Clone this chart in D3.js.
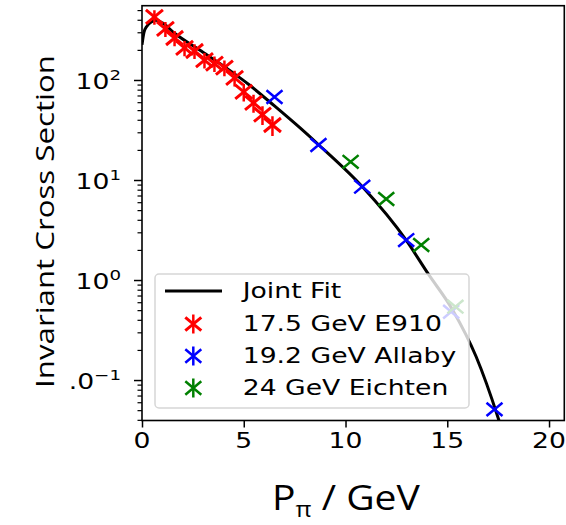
<!DOCTYPE html>
<html><head><meta charset="utf-8">
<script src="https://cdn.jsdelivr.net/npm/d3@7"></script>
<style>body{margin:0;background:#fff;} svg{display:block;}</style>
</head><body>
<svg id="chart" width="566" height="525"></svg>
<script>
// ---- data ----
const fitX = [0.0, 0.1, 0.25, 0.45, 0.7, 1.0, 1.6, 2.83, 4.05, 5.28, 6.51, 7.74, 8.64, 10.82, 12.98, 14.04, 15.27, 16.42, 17.48, 17.7];
const fitY = [225, 300, 347, 380, 396, 372, 293, 199, 136, 89, 55, 33.5, 22.9, 8.6, 2.5, 1.17, 0.50, 0.171, 0.043, 0.031];

const e910X = [0.61, 1.15, 1.6, 2.09, 2.58, 3.07, 3.56, 4.05, 4.55, 5.0, 5.48, 5.92, 6.41];
const e910Y = [427, 324, 263, 209, 195, 158, 146, 133, 105, 76, 59, 45, 35.5];
const e910Err = [70, 55, 45, 36, 33, 28, 26, 24, 19, 15, 12, 9.5, 8];

const allabyX = [6.51, 8.67, 10.82, 12.98, 15.19, 17.32];
const allabyY = [67.6, 22.4, 8.58, 2.51, 0.482, 0.0509];
const allabyErr = [2, 0.7, 0.25, 0.08, 0.015, 0.002];

const eichtenX = [10.25, 12.0, 13.72, 15.4];
const eichtenY = [15.2, 6.46, 2.24, 0.541];
const eichtenErr = [0.5, 0.2, 0.07, 0.017];

const xTicks = [0, 5, 10, 15, 20];
const xTickLabels = ["0", "5", "10", "15", "20"];
const yTicks = [100, 10, 1, 0.1];
const yTickBase = ["10", "10", "10", ".0"];
const yTickExp = ["2", "1", "0", "\u22121"];
const legendLabels = ["Joint Fit", "17.5 GeV E910", "19.2 GeV Allaby", "24 GeV Eichten"];
const seriesColors = ["#000000", "#ff0000", "#0000ff", "#008000"];

// ---- layout ----
const svg = d3.select("#chart");
const L = 142, R = 564.3, T = 5.7, B = 420.5;
const SX = 1.3, FS = 20.5;
const x = d3.scaleLinear().domain([0, 20.75]).range([L, R]);
const y = d3.scaleLog().domain([0.0394, 553]).range([B, T]);

svg.append("defs").append("clipPath").attr("id", "clip")
  .append("rect").attr("x", L).attr("y", T).attr("width", R - L).attr("height", B - T);

const plot = svg.append("g").attr("clip-path", "url(#clip)");

// fit line
const line = d3.line().x((d, i) => x(fitX[i])).y((d, i) => y(fitY[i])).curve(d3.curveMonotoneX);
plot.append("path").datum(fitX).attr("d", line)
  .attr("fill", "none").attr("stroke", "#000").attr("stroke-width", 3);

function xMarker(w, h) { return `M${-w},${-h}L${w},${h}M${-w},${h}L${w},${-h}`; }

function drawSeries(xs, ys, errs, color, w, h, sw) {
  const g = plot.append("g");
  g.selectAll("line.err").data(xs).join("line")
    .attr("x1", (d) => x(d)).attr("x2", (d) => x(d))
    .attr("y1", (d, i) => y(ys[i] + errs[i]))
    .attr("y2", (d, i) => y(Math.max(ys[i] - errs[i], 1e-6)))
    .attr("stroke", color).attr("stroke-width", 2.5);
  g.selectAll("path.mk").data(xs).join("path")
    .attr("d", xMarker(w, h))
    .attr("transform", (d, i) => `translate(${x(d)},${y(ys[i])})`)
    .attr("fill", "none").attr("stroke", color).attr("stroke-width", sw);
}
drawSeries(e910X, e910Y, e910Err, seriesColors[1], 8.5, 7, 3);
drawSeries(allabyX, allabyY, allabyErr, seriesColors[2], 8, 6.7, 2.5);
drawSeries(eichtenX, eichtenY, eichtenErr, seriesColors[3], 8, 6.7, 2.5);

// axes ticks
const xAxis = d3.axisBottom(x).tickValues(xTicks).tickSize(7).tickFormat("");
const gx = svg.append("g").attr("transform", `translate(0,${B})`).call(xAxis);
gx.select(".domain").remove();
gx.selectAll(".tick line").attr("stroke-width", 1.5);

const yAxis = d3.axisLeft(y).tickValues(yTicks).tickSize(8).tickFormat("");
const gy = svg.append("g").attr("transform", `translate(${L},0)`).call(yAxis);
gy.select(".domain").remove();
gy.selectAll(".tick line").attr("stroke-width", 1.5);

const minor = y.ticks().filter(v => Math.abs(Math.log10(v) - Math.round(Math.log10(v))) > 1e-6);
const yMinor = d3.axisLeft(y).tickValues(minor).tickSize(4.5).tickFormat("");
const gym = svg.append("g").attr("transform", `translate(${L},0)`).call(yMinor);
gym.select(".domain").remove();
gym.selectAll(".tick line").attr("stroke-width", 1.2);

// spines
svg.append("rect").attr("x", L).attr("y", T).attr("width", R - L).attr("height", B - T)
  .attr("fill", "none").attr("stroke", "#000").attr("stroke-width", 1.6);

// tick labels
xTicks.forEach((v, i) => {
  svg.append("text").attr("transform", `translate(${x(v)},448) scale(${SX},1)`)
    .attr("text-anchor", "middle").attr("font-family", "DejaVu Sans").attr("font-size", FS)
    .text(xTickLabels[i]);
});
yTicks.forEach((v, i) => {
  const t = svg.append("text").attr("transform", `translate(121,${y(v) + 9.3}) scale(${SX},1)`)
    .attr("text-anchor", "end").attr("font-family", "DejaVu Sans").attr("font-size", FS);
  t.append("tspan").text(yTickBase[i]);
  t.append("tspan").attr("dy", -9).attr("font-size", 14).text(yTickExp[i]);
});

// axis labels
function fitText(sel, target) {
  const w = sel.node().getBBox().width;
  return target / w;
}
const xl = svg.append("text").attr("font-family", "Open Sans").attr("font-size", 35).attr("text-anchor", "start");
xl.append("tspan").text("P");
xl.append("tspan").attr("font-size", 22).attr("dy", 7).text("\u03c0");
xl.append("tspan").attr("dy", -7).text(" / GeV");
const sxl = fitText(xl, 148);
xl.attr("transform", `translate(272,510) scale(${sxl},1)`);

const yl = svg.append("text").attr("font-family", "Open Sans").attr("font-size", 25.5).attr("text-anchor", "middle")
  .text("Invariant Cross Section");
const syl = fitText(yl, 333);
yl.attr("transform", `translate(54,221.5) rotate(-90) scale(${syl},1)`);

// legend
const lg = svg.append("g");
lg.append("rect").attr("x", 155).attr("y", 274).attr("width", 314).attr("height", 134).attr("rx", 4)
  .attr("fill", "#fff").attr("fill-opacity", 0.8).attr("stroke", "#cccccc").attr("stroke-opacity", 0.8).attr("stroke-width", 1.5);
const rowBase = [298, 331, 363, 395];
legendLabels.forEach((lab, i) => {
  const cy = rowBase[i] - 7;
  if (i === 0) {
    lg.append("line").attr("x1", 165).attr("x2", 222).attr("y1", cy).attr("y2", cy)
      .attr("stroke", seriesColors[0]).attr("stroke-width", 3);
  } else {
    lg.append("line").attr("x1", 193.3).attr("x2", 193.3).attr("y1", cy - 9.5).attr("y2", cy + 9.5)
      .attr("stroke", seriesColors[i]).attr("stroke-width", 2.5);
    lg.append("path").attr("d", xMarker(8, 6.7)).attr("transform", `translate(193.3,${cy})`)
      .attr("fill", "none").attr("stroke", seriesColors[i]).attr("stroke-width", i === 1 ? 3 : 2.5);
  }
  lg.append("text").attr("transform", `translate(242.7,${rowBase[i]}) scale(${SX},1)`)
    .attr("font-family", "DejaVu Sans").attr("font-size", FS).text(lab);
});
</script>
</body></html>
